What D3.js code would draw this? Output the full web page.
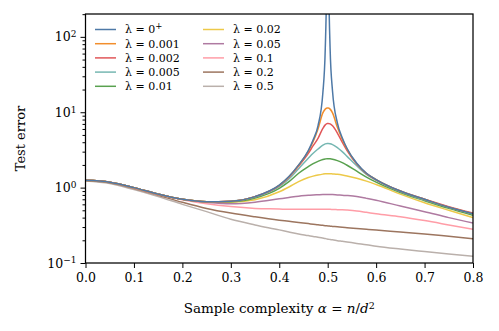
<!DOCTYPE html>
<html>
<head>
<meta charset="utf-8">
<script src="https://cdn.jsdelivr.net/npm/d3@7"></script>
<style>
  body { margin: 0; background: #fff; }
  svg { display: block; }
  svg text { font-family: "DejaVu Serif", "Liberation Serif", serif; fill: #000; }
  .axis .domain { display: none; }
  .axis line { stroke: #000; stroke-width: 1; }
</style>
</head>
<body>
<script>
// sample complexity grid (denser around the peak at 0.5)
var alpha = [0, 0.05, 0.1, 0.15, 0.2, 0.25, 0.3, 0.35, 0.4, 0.42, 0.44, 0.46, 0.47, 0.48, 0.49, 0.495, 0.499,
             0.5, 0.501, 0.505, 0.51, 0.52, 0.53, 0.54, 0.56, 0.58, 0.6, 0.65, 0.7, 0.75, 0.8];

var lambdaLabels = ["0+", "0.001", "0.002", "0.005", "0.01", "0.02", "0.05", "0.1", "0.2", "0.5"];

// test error per lambda
var err0p  = [1.25,1.18,1.0,0.82,0.7,0.65,0.66,0.76, 1.08,1.4,2.0,3.1,4.3,6.6,18,70,2000, 20000, 2000,70,19,7.2,4.6,3.3,2.1,1.55,1.28, 0.9,0.7,0.55,0.45];
var err001 = [1.25,1.18,1.0,0.82,0.7,0.65,0.66,0.76, 1.07,1.39,1.98,3.05,4.1,6.0,9.8,11.0,11.4, 11.4, 11.4,11.0,9.8,6.3,4.4,3.25,2.08,1.54,1.28, 0.9,0.7,0.55,0.45];
var err002 = [1.25,1.18,1.0,0.82,0.7,0.65,0.66,0.76, 1.06,1.37,1.93,2.85,3.6,4.5,6.1,6.8,7.1, 7.1, 7.1,7.0,6.6,5.3,4.0,3.1,2.05,1.53,1.27, 0.9,0.7,0.56,0.46];
var err005 = [1.25,1.18,1.0,0.82,0.7,0.65,0.66,0.75, 1.03,1.3,1.78,2.45,2.85,3.25,3.65,3.8,3.85, 3.85, 3.85,3.82,3.72,3.4,3.0,2.6,1.95,1.5,1.25, 0.89,0.69,0.55,0.45];
var err01  = [1.25,1.18,1.0,0.82,0.7,0.65,0.65,0.73, 0.98,1.2,1.55,1.9,2.08,2.23,2.36,2.4,2.42, 2.42, 2.42,2.41,2.38,2.28,2.15,1.98,1.65,1.38,1.18, 0.86,0.67,0.53,0.43];
var err02  = [1.25,1.18,1.0,0.82,0.7,0.65,0.64,0.69, 0.88,1.02,1.2,1.36,1.42,1.47,1.51,1.525,1.53, 1.53, 1.53,1.53,1.52,1.5,1.47,1.43,1.33,1.22,1.1, 0.82,0.63,0.5,0.4];
var err05  = [1.25,1.18,1.0,0.82,0.7,0.64,0.61,0.64, 0.71,0.74,0.77,0.79,0.8,0.805,0.81,0.81,0.81, 0.81, 0.81,0.81,0.81,0.8,0.795,0.785,0.76,0.72,0.68, 0.57,0.48,0.4,0.34];
var err1   = [1.25,1.18,0.99,0.81,0.69,0.61,0.56,0.53, 0.52,0.515,0.515,0.515,0.515,0.515,0.515,0.515,0.515, 0.515, 0.515,0.515,0.513,0.51,0.508,0.503,0.49,0.47,0.45, 0.41,0.365,0.32,0.28];
var err2   = [1.24,1.16,0.97,0.79,0.64,0.53,0.46,0.41, 0.37,0.357,0.344,0.333,0.327,0.322,0.316,0.313,0.311, 0.31, 0.31,0.308,0.306,0.302,0.298,0.294,0.287,0.28,0.273, 0.258,0.243,0.226,0.21];
var err5   = [1.22,1.13,0.94,0.76,0.6,0.48,0.38,0.32, 0.275,0.258,0.243,0.231,0.225,0.22,0.214,0.211,0.208, 0.207, 0.207,0.205,0.203,0.198,0.194,0.19,0.182,0.175,0.167, 0.153,0.142,0.132,0.123];

var xTicks = [0, 0.1, 0.2, 0.3, 0.4, 0.5, 0.6, 0.7, 0.8];
var yMajor = [0.1, 1, 10, 100];
var yExp = ["\u22121", "0", "1", "2"];

var series = [err0p, err001, err002, err005, err01, err02, err05, err1, err2, err5];
var colors = d3.schemeTableau10;
var serif = "DejaVu Serif, Liberation Serif, serif";

var W = 499, H = 331;
var m = {left: 85.5, right: 26, top: 14, bottom: 68};

var svg = d3.select("body").append("svg")
    .attr("width", W).attr("height", H)
    .attr("font-family", serif);

var x = d3.scaleLinear().domain([0, 0.8]).range([m.left, W - m.right]);
var y = d3.scaleLog().domain([0.1, 201]).range([H - m.bottom, m.top]);

svg.append("clipPath").attr("id", "clip")
  .append("rect")
    .attr("x", m.left).attr("y", m.top)
    .attr("width", W - m.right - m.left).attr("height", H - m.bottom - m.top);

var line = d3.line()
    .x(function(d) { return x(d[0]); })
    .y(function(d) { return y(d[1]); })
    .curve(d3.curveMonotoneX);

// draw larger lambda first so small lambda stays on top
svg.append("g").attr("clip-path", "url(#clip)")
  .selectAll("path")
  .data(series.map(function(s, i) { return {i: i, pts: alpha.map(function(a, k) { return [a, s[k]]; })}; }).reverse())
  .join("path")
    .attr("d", function(d) { return line(d.pts); })
    .attr("fill", "none")
    .attr("stroke", function(d) { return colors[d.i]; })
    .attr("stroke-width", 1.5);

// x axis
var gx = svg.append("g").attr("class", "axis")
    .attr("transform", "translate(0," + (H - m.bottom) + ")")
    .call(d3.axisBottom(x).tickValues(xTicks).tickSize(5).tickPadding(5)
      .tickFormat(d3.format(".1f")));
gx.attr("font-family", serif);
gx.selectAll("text").attr("font-size", 12.5);

// y axis minor ticks
var minor = [];
[0.1, 1, 10, 100].forEach(function(b) {
  for (var k = 2; k <= 9; k++) if (b * k <= 201) minor.push(b * k);
});
svg.append("g").attr("class", "axis")
    .attr("transform", "translate(" + m.left + ",0)")
    .call(d3.axisLeft(y).tickValues(minor).tickSize(3).tickFormat(""));

var gy = svg.append("g").attr("class", "axis")
    .attr("transform", "translate(" + m.left + ",0)")
    .call(d3.axisLeft(y).tickValues(yMajor).tickSize(5).tickFormat(""));
gy.attr("font-family", serif);

gy.selectAll(".tick").each(function(d, i) {
  var t = d3.select(this).append("text")
      .attr("x", -9).attr("dy", "0.32em")
      .attr("text-anchor", "end").attr("font-size", 12.5);
  t.append("tspan").text("10");
  t.append("tspan").attr("dy", "-0.45em").attr("font-size", 9).text(yExp[i]);
});

// frame
svg.append("rect")
    .attr("x", m.left).attr("y", m.top)
    .attr("width", W - m.right - m.left).attr("height", H - m.bottom - m.top)
    .attr("fill", "none").attr("stroke", "#000").attr("stroke-width", 1.25);

// axis titles
var xl = svg.append("text")
    .attr("x", (m.left + W - m.right) / 2).attr("y", 313)
    .attr("text-anchor", "middle").attr("font-size", 13.5);
xl.append("tspan").text("Sample complexity ");
xl.append("tspan").attr("font-style", "italic").text("\u03b1");
xl.append("tspan").text(" = ");
xl.append("tspan").attr("font-style", "italic").text("n");
xl.append("tspan").text("/");
xl.append("tspan").attr("font-style", "italic").text("d");
xl.append("tspan").attr("dy", "-0.45em").attr("font-size", 9.5).text("2");

svg.append("text")
    .attr("transform", "translate(25," + ((m.top + H - m.bottom) / 2) + ") rotate(-90)")
    .attr("text-anchor", "middle").attr("font-size", 13)
    .text("Test error");

// legend, two columns of five
var legend = svg.append("g");
lambdaLabels.forEach(function(lab, i) {
  var col = Math.floor(i / 5), row = i % 5;
  var lx = 95 + col * 108, ly = 29.5 + row * 14.2;
  legend.append("line")
      .attr("x1", lx).attr("x2", lx + 21).attr("y1", ly).attr("y2", ly)
      .attr("stroke", colors[i]).attr("stroke-width", 1.5);
  var t = legend.append("text")
      .attr("x", lx + 30).attr("y", ly).attr("dy", "0.35em")
      .attr("font-size", 11);
  t.append("tspan").text("\u03bb = " + lab.replace("+", ""));
  if (lab.indexOf("+") >= 0) t.append("tspan").attr("dy", "-0.5em").attr("font-size", 8.5).text("+");
});
</script>
</body>
</html>
